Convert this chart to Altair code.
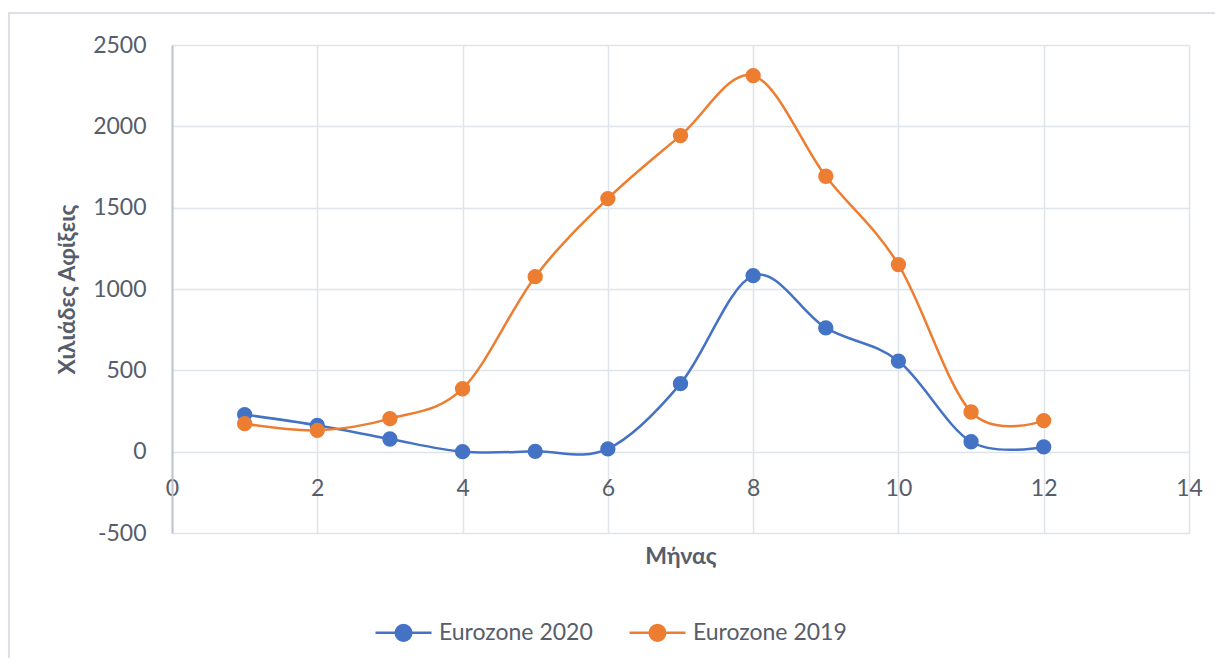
import altair as alt
import pandas as pd

# ---- data ----
months = [1, 2, 3, 4, 5, 6, 7, 8, 9, 10, 11, 12]
series_names = ["Eurozone 2020", "Eurozone 2019"]
arrivals_2020 = [228, 162, 78, 0, 2, 17, 418, 1082, 761, 557, 61, 29]
arrivals_2019 = [172, 131, 203, 387, 1076, 1556, 1943, 2312, 1693, 1150, 244, 191]
x_ticks = [0, 2, 4, 6, 8, 10, 12, 14]
y_ticks = [-500, 0, 500, 1000, 1500, 2000, 2500]
series_colors = ["#4472C4", "#ED7D31"]

df = pd.DataFrame({
    "month": months + months,
    "value": arrivals_2020 + arrivals_2019,
    "series": [series_names[0]] * len(months) + [series_names[1]] * len(months),
    "order": list(range(2 * len(months))),
})

FONT = "Lato"
TXT = "#565d6b"
GRID = "#dfe3ea"

x_enc = alt.X(
    "month:Q",
    scale=alt.Scale(domain=[0, 14], nice=False, zero=False),
    axis=alt.Axis(
        values=x_ticks, title="Μήνας", offset=-81, domain=False, ticks=False,
        labelPadding=43, labelBaseline="alphabetic", labelFont=FONT, labelFontSize=23,
        labelColor=TXT, labelFlush=False, labelExpr="toString(datum.value)",
        grid=True, gridColor=GRID, gridWidth=1.5,
        titleFont=FONT, titleFontSize=23, titleFontWeight="bold", titleColor=TXT,
        titleY=111, titleBaseline="alphabetic",
    ),
)
y_enc = alt.Y(
    "value:Q",
    scale=alt.Scale(domain=[-500, 2500], nice=False, zero=False),
    axis=alt.Axis(
        values=y_ticks, title="Χιλιάδες Αφίξεις", domain=True, domainColor="#bcc5d1",
        domainWidth=2, ticks=False, labelPadding=26, labelFont=FONT, labelFontSize=23,
        labelColor=TXT, labelFlush=False, labelExpr="toString(datum.value)",
        grid=True, gridColor=GRID, gridWidth=1.5,
        titleFont=FONT, titleFontSize=23, titleFontWeight="bold", titleColor=TXT,
        titleX=-98, titleY=244, titleBaseline="alphabetic", titleAngle=-90,
    ),
)
color_enc = alt.Color(
    "series:N",
    scale=alt.Scale(domain=series_names, range=series_colors),
    legend=alt.Legend(
        orient="none", legendX=202, legendY=558, direction="horizontal", title=None,
        symbolType="M-1,0L1,0M0.28,0A0.28,0.28,0,1,1,-0.28,0A0.28,0.28,0,1,1,0.28,0Z",
        symbolSize=3136, symbolStrokeWidth=2.5, symbolOpacity=1,
        labelFont=FONT, labelFontSize=23, labelColor=TXT, labelOffset=6,
        columnPadding=31, padding=0,
    ),
)

base = alt.Chart(df)

frame = alt.Chart(alt.Data(values=[{"a": 1}])).mark_rect(
    filled=False, stroke="#dde1e7", strokeWidth=2
).encode(
    x=alt.value(-163), x2=alt.value(1200), y=alt.value(-32), y2=alt.value(720)
)

lines = base.mark_line(interpolate="cardinal", tension=0, strokeWidth=2.5).encode(
    x=x_enc, y=y_enc, color=color_enc, detail="series:N"
)
points = base.mark_circle(size=235, opacity=1).encode(
    x=x_enc, y=y_enc, color=color_enc, order="order:Q"
)

chart = alt.layer(frame, lines, points).properties(
    width=1017, height=488,
    autosize=alt.AutoSizeParams(type="none"),
    padding={"left": 164, "top": 37, "right": 26, "bottom": 125},
    background="white",
).configure_view(stroke=None)

chart.save("out.html", embed_options={"renderer": "svg", "actions": False})
